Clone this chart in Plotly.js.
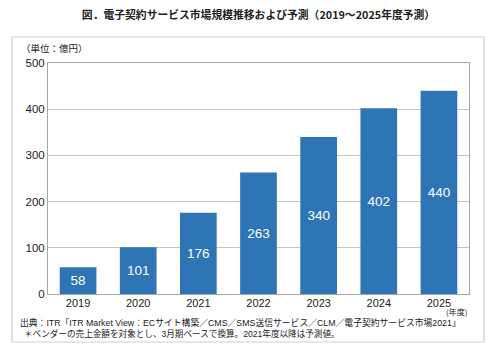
<!DOCTYPE html>
<html>
<head>
<meta charset="utf-8">
<script src="https://cdn.plot.ly/plotly-3.0.1.min.js"></script>
<style>html,body{margin:0;padding:0;background:#fff;}#chart{width:500px;height:360px;}</style>
</head>
<body>
<div id="chart"></div>
<script>
const years = ["2019", "2020", "2021", "2022", "2023", "2024", "2025"];
const marketSize = [58, 101, 176, 263, 340, 402, 440];
const yTickValues = [0, 100, 200, 300, 400, 500];
const titleText = "図．電子契約サービス市場規模推移および予測（2019～2025年度予測）";
const unitText = "（単位：億円）";
const xUnitText = "(年度)";
const sourceLine1 = "出典：ITR「ITR Market View：ECサイト構築／CMS／SMS送信サービス／CLM／電子契約サービス市場2021」";
const sourceLine2 = "＊ベンダーの売上金額を対象とし、3月期ベースで換算。2021年度以降は予測値。";

const FONT = "Liberation Sans, Arial, Noto Sans CJK JP, sans-serif";
const TXT = "#222";

const trace = {
  type: "bar",
  x: years,
  y: marketSize,
  text: marketSize.map(String),
  textposition: "inside",
  insidetextanchor: "middle",
  textfont: {family: FONT, size: 13.5, color: "#ffffff"},
  marker: {color: "#2e75b6"},
  hoverinfo: "none"
};

const layout = {
  width: 500, height: 360,
  margin: {l: 48, r: 31, t: 63, b: 66},
  paper_bgcolor: "#ffffff",
  plot_bgcolor: "#ffffff",
  showlegend: false,
  bargap: 0.39,
  font: {family: FONT, color: TXT, size: 11},
  title: {
    text: "<b>" + titleText + "</b>",
    font: {family: "Noto Sans CJK JP, sans-serif", size: 10.8, color: "#222"},
    x: 0.5, xanchor: "center", y: 0.958, yanchor: "middle", xref: "paper"
  },
  xaxis: {
    type: "category",
    tickfont: {family: FONT, size: 11, color: TXT},
    showline: true, linecolor: "#a6a6a6", linewidth: 1, mirror: true,
    ticks: "", showgrid: false, fixedrange: true, ticklabelstandoff: -1
  },
  yaxis: {
    range: [0, 500],
    tickvals: yTickValues,
    ticktext: yTickValues.map(String),
    tickfont: {family: FONT, size: 11.5, color: TXT},
    showline: true, linecolor: "#a6a6a6", linewidth: 1, mirror: true,
    gridcolor: "#c4c4c4", gridwidth: 1,
    zeroline: false, ticks: "", fixedrange: true
  },
  shapes: [{
    type: "rect", xref: "paper", yref: "paper",
    x0: -0.0855, x1: 1.0356, y0: -0.2078, y1: 1.1126,
    line: {color: "#cfcfcf", width: 1.2}, fillcolor: "rgba(0,0,0,0)", layer: "below"
  }],
  annotations: [
    {text: unitText, xref: "paper", yref: "paper", x: -0.07, y: 1.065, xanchor: "left", yanchor: "middle",
     showarrow: false, font: {family: "Noto Sans CJK JP, sans-serif", size: 9.5, color: TXT}},
    {text: xUnitText, xref: "paper", yref: "paper", x: 0.998, y: -0.074, xanchor: "right", yanchor: "middle",
     showarrow: false, borderpad: 0, font: {family: "Noto Sans CJK JP, sans-serif", size: 8, color: TXT}},
    {text: sourceLine1, xref: "paper", yref: "paper", x: -0.068, y: -0.123, xanchor: "left", yanchor: "middle",
     showarrow: false, borderpad: 0, font: {family: FONT, size: 8.8, color: TXT}},
    {text: sourceLine2, xref: "paper", yref: "paper", x: -0.06, y: -0.171, xanchor: "left", yanchor: "middle",
     showarrow: false, borderpad: 0, font: {family: FONT, size: 8.6, color: TXT}}
  ]
};

Plotly.newPlot("chart", [trace], layout, {displayModeBar: false, staticPlot: true});
</script>
</body>
</html>
